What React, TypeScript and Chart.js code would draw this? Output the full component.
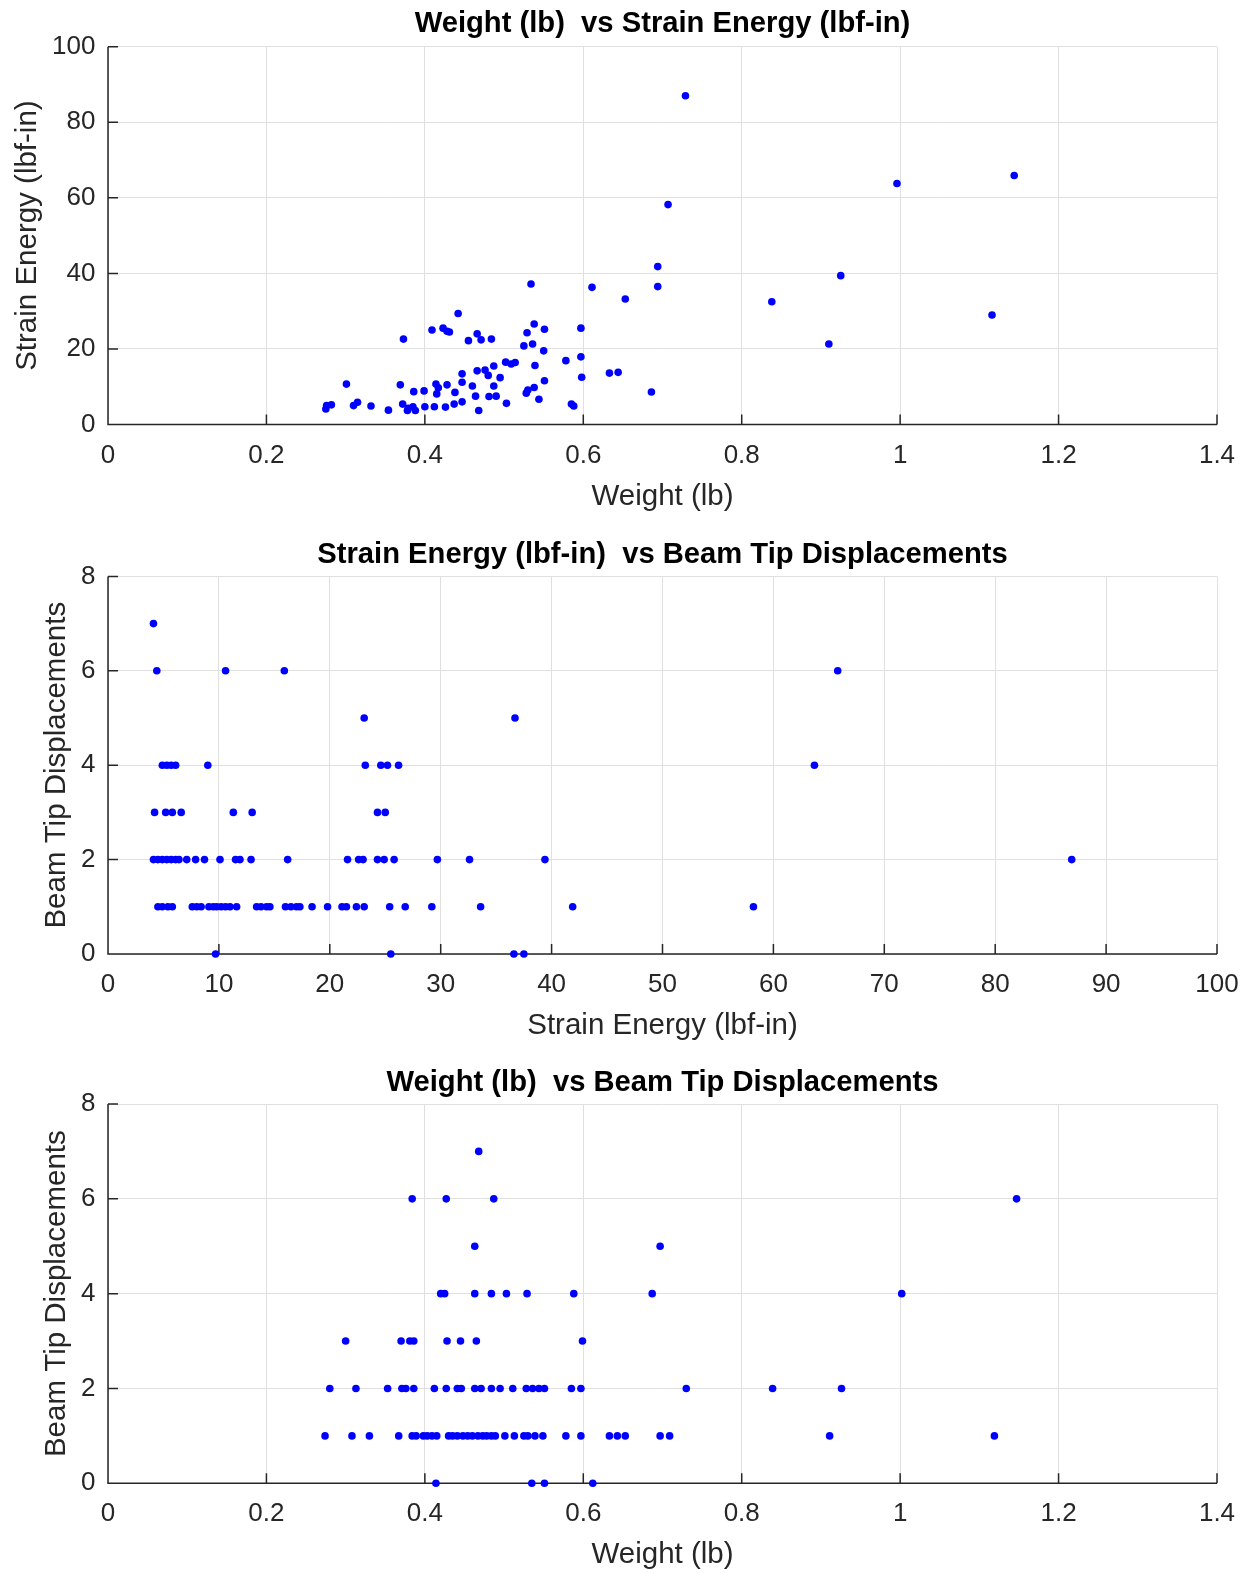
import React, { useEffect, useRef } from "react";
import { Chart, registerables } from "chart.js";

Chart.register(...registerables);

// ---------- Data ----------
// Panel 1: Weight (lb) vs Strain Energy (lbf-in)
const weightTop = [
  0.534, 0.611, 0.653, 0.694, 0.694, 0.442, 0.423, 0.428, 0.466, 0.455,
  0.471, 0.484, 0.538, 0.529, 0.551, 0.597, 0.525, 0.536, 0.550, 0.597,
  0.578, 0.502, 0.514, 0.509, 0.539, 0.487, 0.447, 0.466, 0.476, 0.480,
  0.495, 0.598, 0.633, 0.644, 0.428, 0.447, 0.460, 0.487, 0.551, 0.538,
  0.530, 0.528, 0.438, 0.464, 0.481, 0.490, 0.544, 0.503, 0.686, 0.585,
  0.588, 0.426, 0.437, 0.447, 0.468, 0.409, 0.431, 0.373, 0.301, 0.369,
  0.386, 0.399, 0.414, 0.417, 0.415, 0.276, 0.282, 0.275, 0.310, 0.315,
  0.332, 0.354, 0.372, 0.379, 0.385, 0.388, 0.378, 0.400, 0.412,
  0.729, 0.996, 1.144, 0.707, 0.925, 0.838, 1.116, 0.910,
];
const energyTop = [
  37.2, 36.3, 33.2, 41.8, 36.5, 29.4, 25.5, 24.7, 24.0, 22.2,
  22.4, 22.6, 26.6, 24.3, 25.2, 25.5, 20.8, 21.3, 19.5, 17.9,
  16.9, 16.5, 16.4, 16.0, 15.6, 15.5, 13.4, 14.2, 14.4, 13.0,
  12.4, 12.5, 13.6, 13.8, 10.5, 11.2, 10.2, 10.2, 11.6, 9.8,
  9.1, 8.3, 8.5, 7.5, 7.4, 7.5, 6.7, 5.6, 8.6, 5.4,
  4.9, 4.6, 5.4, 6.0, 3.7, 25.0, 24.5, 22.6, 10.7, 10.5,
  8.7, 8.9, 10.7, 9.7, 8.1, 5.0, 5.2, 4.1, 5.0, 5.9,
  4.9, 3.8, 5.4, 4.3, 4.7, 3.7, 3.7, 4.7, 4.7,
  87.0, 63.8, 65.9, 58.2, 39.4, 32.5, 29.0, 21.3,
];

// Panel 2: Strain Energy (lbf-in) vs Beam Tip Displacements
const energyMid = [
  4.1,
  4.4, 10.6, 15.9, 65.8,
  23.1, 36.7,
  4.9, 5.3, 5.7, 6.1, 9.0, 23.2, 24.6, 25.2, 26.2, 63.7,
  4.2, 5.2, 5.8, 6.6, 11.3, 13.0, 24.3, 25.0,
  4.1, 4.5, 4.9, 5.3, 5.7, 6.1, 6.4, 7.1, 7.9, 8.7, 10.1, 11.5, 11.9, 12.9,
  16.2, 21.6, 22.6, 23.0, 24.3, 24.9, 25.8, 29.7, 32.6, 39.4, 86.9,
  4.5, 4.9, 5.4, 5.8, 7.6, 8.0, 8.4, 9.1, 9.5, 9.8, 10.2, 10.6, 11.0, 11.6,
  13.4, 13.8, 14.3, 14.6, 16.0, 16.5, 17.0, 17.3, 18.4, 19.8, 21.1, 21.5,
  22.4, 23.1, 25.4, 26.8, 29.2, 33.6, 41.9, 58.2,
  9.7, 25.5, 36.6, 37.5,
];
const dispMid = [
  7,
  6, 6, 6, 6,
  5, 5,
  4, 4, 4, 4, 4, 4, 4, 4, 4, 4,
  3, 3, 3, 3, 3, 3, 3, 3,
  2, 2, 2, 2, 2, 2, 2, 2, 2, 2, 2, 2, 2, 2,
  2, 2, 2, 2, 2, 2, 2, 2, 2, 2, 2,
  1, 1, 1, 1, 1, 1, 1, 1, 1, 1, 1, 1, 1, 1,
  1, 1, 1, 1, 1, 1, 1, 1, 1, 1, 1, 1,
  1, 1, 1, 1, 1, 1, 1, 1,
  0, 0, 0, 0,
];

// Panel 3: Weight (lb) vs Beam Tip Displacements
const weightBot = [
  0.468,
  0.384, 0.427, 0.487, 1.147,
  0.463, 0.697,
  0.420, 0.425, 0.463, 0.484, 0.503, 0.529, 0.588, 0.687, 1.002,
  0.300, 0.370, 0.381, 0.386, 0.428, 0.445, 0.465, 0.599,
  0.280, 0.313, 0.353, 0.371, 0.376, 0.386, 0.412, 0.427, 0.441, 0.446, 0.463, 0.471,
  0.484, 0.495, 0.511, 0.528, 0.536, 0.544, 0.551, 0.585, 0.597, 0.730, 0.839, 0.926,
  0.274, 0.308, 0.330, 0.367, 0.384, 0.389, 0.398, 0.403, 0.409, 0.415, 0.430, 0.435,
  0.441, 0.448, 0.454, 0.460, 0.467, 0.473, 0.478, 0.484, 0.489, 0.501, 0.513, 0.525,
  0.530, 0.539, 0.549, 0.578, 0.597, 0.633, 0.643, 0.653, 0.697, 0.709, 0.911, 1.119,
  0.414, 0.535, 0.551, 0.612,
];
const dispBot = [
  7,
  6, 6, 6, 6,
  5, 5,
  4, 4, 4, 4, 4, 4, 4, 4, 4,
  3, 3, 3, 3, 3, 3, 3, 3,
  2, 2, 2, 2, 2, 2, 2, 2, 2, 2, 2, 2,
  2, 2, 2, 2, 2, 2, 2, 2, 2, 2, 2, 2,
  1, 1, 1, 1, 1, 1, 1, 1, 1, 1, 1, 1,
  1, 1, 1, 1, 1, 1, 1, 1, 1, 1, 1, 1,
  1, 1, 1, 1, 1, 1, 1, 1, 1, 1, 1, 1,
  0, 0, 0, 0,
];

const titles = [
  "Weight (lb)  vs Strain Energy (lbf-in)",
  "Strain Energy (lbf-in)  vs Beam Tip Displacements",
  "Weight (lb)  vs Beam Tip Displacements",
];
const xLabels = ["Weight (lb)", "Strain Energy (lbf-in)", "Weight (lb)"];
const yLabels = ["Strain Energy (lbf-in)", "Beam Tip Displacements", "Beam Tip Displacements"];

// ---------- Styling ----------
const FONT = "'Liberation Sans', Arial, Helvetica, sans-serif";
const AXIS_COLOR = "#262626";
const GRID_COLOR = "#e0e0e0";
const TICK_FONT = 26;
const LABEL_FONT = 29.5;
const TITLE_FONT = 29.2;
const TICK_LEN = 10;

type Panel = {
  top: number;
  height: number;
  areaTop: number;
  areaBottom: number;
  titleCenter: number;
  xTitleCenter: number;
  yTitleCenter: number;
  title: string;
  xLabel: string;
  yLabel: string;
  xs: number[];
  ys: number[];
  xMax: number;
  xStep: number;
  yMax: number;
  yStep: number;
  xDecimals: boolean;
};

const axesPlugin = {
  id: "matlabAxes",
  beforeDatasetsDraw(chart: any) {
    const { ctx, chartArea } = chart;
    const { left, right, top, bottom } = chartArea;
    const xs = chart.scales.x;
    const ys = chart.scales.y;
    ctx.save();
    ctx.strokeStyle = AXIS_COLOR;
    ctx.lineWidth = 1.5;
    ctx.beginPath();
    ctx.moveTo(left, top);
    ctx.lineTo(left, bottom);
    ctx.lineTo(right, bottom);
    xs.ticks.forEach((t: any) => {
      const px = xs.getPixelForValue(t.value);
      ctx.moveTo(px, bottom);
      ctx.lineTo(px, bottom - TICK_LEN);
    });
    ys.ticks.forEach((t: any) => {
      const py = ys.getPixelForValue(t.value);
      ctx.moveTo(left, py);
      ctx.lineTo(left + TICK_LEN, py);
    });
    ctx.stroke();
    ctx.restore();
  },
};

const panelTitlePlugin = {
  id: "panelTitle",
  afterDraw(chart: any, _args: any, opts: any) {
    const { ctx, chartArea } = chart;
    ctx.save();
    ctx.fillStyle = "#000000";
    ctx.font = `bold ${TITLE_FONT}px ${FONT}`;
    ctx.textAlign = "center";
    ctx.textBaseline = "middle";
    ctx.fillText(opts.text, (chartArea.left + chartArea.right) / 2, opts.y);
    ctx.restore();
  },
};

function ScatterPanel({ p }: { p: Panel }) {
  const ref = useRef<HTMLCanvasElement | null>(null);
  useEffect(() => {
    if (!ref.current) return;
    const lh = LABEL_FONT * 1.2;
    const tickLh = TICK_FONT * 1.2;
    const chart = new Chart(ref.current, {
      type: "scatter",
      data: {
        datasets: [
          {
            data: p.xs.map((x, i) => ({ x, y: p.ys[i] })),
            backgroundColor: "#0000ff",
            borderColor: "#0000ff",
            borderWidth: 0,
            pointRadius: 3.8,
            pointHoverRadius: 3.8,
            clip: false as any,
          },
        ],
      },
      options: {
        animation: false,
        responsive: false,
        devicePixelRatio: 1,
        events: [],
        layout: { padding: { left: 0, top: p.areaTop, right: 32, bottom: 0 } },
        plugins: {
          legend: { display: false },
          tooltip: { enabled: false },
          title: { display: false },
          panelTitle: { text: p.title, y: p.titleCenter },
        },
        scales: {
          x: {
            type: "linear",
            min: 0,
            max: p.xMax,
            afterFit: (s: any) => {
              s.height = p.height - p.areaBottom;
              s.paddingLeft = 0;
              s.paddingRight = 0;
            },
            ticks: {
              stepSize: p.xStep,
              autoSkip: false,
              maxRotation: 0,
              color: AXIS_COLOR,
              padding: 31 - tickLh / 2,
              font: { family: FONT, size: TICK_FONT, lineHeight: 1.2 },
              callback: (v: any) =>
                p.xDecimals ? String(Math.round(Number(v) * 10) / 10) : String(Math.round(Number(v))),
            },
            grid: { color: GRID_COLOR, lineWidth: 1, drawTicks: false },
            border: { display: false },
            title: {
              display: true,
              text: p.xLabel,
              color: AXIS_COLOR,
              font: { family: FONT, size: LABEL_FONT, lineHeight: 1.2 },
              padding: { top: 0, bottom: p.height - p.xTitleCenter - lh / 2 },
            },
          },
          y: {
            type: "linear",
            min: 0,
            max: p.yMax,
            afterFit: (s: any) => {
              s.width = 108;
              s.paddingTop = 0;
              s.paddingBottom = 0;
            },
            ticks: {
              stepSize: p.yStep,
              autoSkip: false,
              color: AXIS_COLOR,
              padding: 12.5,
              font: { family: FONT, size: TICK_FONT, lineHeight: 1.2 },
              callback: (v: any) => String(Math.round(Number(v))),
            },
            grid: { color: GRID_COLOR, lineWidth: 1, drawTicks: false },
            border: { display: false },
            title: {
              display: true,
              text: p.yLabel,
              color: AXIS_COLOR,
              font: { family: FONT, size: LABEL_FONT, lineHeight: 1.2 },
              padding: { top: p.yTitleCenter - lh / 2, bottom: 0 },
            },
          },
        },
      },
      plugins: [axesPlugin, panelTitlePlugin],
    } as any);
    return () => chart.destroy();
  }, [p]);
  return (
    <div style={{ position: "absolute", left: 0, top: p.top, width: 1249, height: p.height }}>
      <canvas ref={ref} width={1249} height={p.height} style={{ display: "block" }} />
    </div>
  );
}

const panels: Panel[] = [
  {
    top: 0, height: 520, areaTop: 46.7, areaBottom: 424.5, titleCenter: 23.5, xTitleCenter: 496.5,
    yTitleCenter: 28, title: titles[0], xLabel: xLabels[0], yLabel: yLabels[0],
    xs: weightTop, ys: energyTop, xMax: 1.4, xStep: 0.2, yMax: 100, yStep: 20, xDecimals: true,
  },
  {
    top: 520, height: 530, areaTop: 56.4, areaBottom: 434, titleCenter: 34.5, xTitleCenter: 506,
    yTitleCenter: 57, title: titles[1], xLabel: xLabels[1], yLabel: yLabels[1],
    xs: energyMid, ys: dispMid, xMax: 100, xStep: 10, yMax: 8, yStep: 2, xDecimals: false,
  },
  {
    top: 1050, height: 523, areaTop: 54, areaBottom: 433.3, titleCenter: 33, xTitleCenter: 505.3,
    yTitleCenter: 57, title: titles[2], xLabel: xLabels[2], yLabel: yLabels[2],
    xs: weightBot, ys: dispBot, xMax: 1.4, xStep: 0.2, yMax: 8, yStep: 2, xDecimals: true,
  },
];

export default function App() {
  useEffect(() => {
    document.body.style.margin = "0";
    document.body.style.overflow = "hidden";
  }, []);
  return (
    <div style={{ position: "absolute", left: 0, top: 0, width: 1249, height: 1573, background: "#ffffff", overflow: "hidden" }}>
      {panels.map((p, i) => (
        <ScatterPanel key={i} p={p} />
      ))}
    </div>
  );
}
